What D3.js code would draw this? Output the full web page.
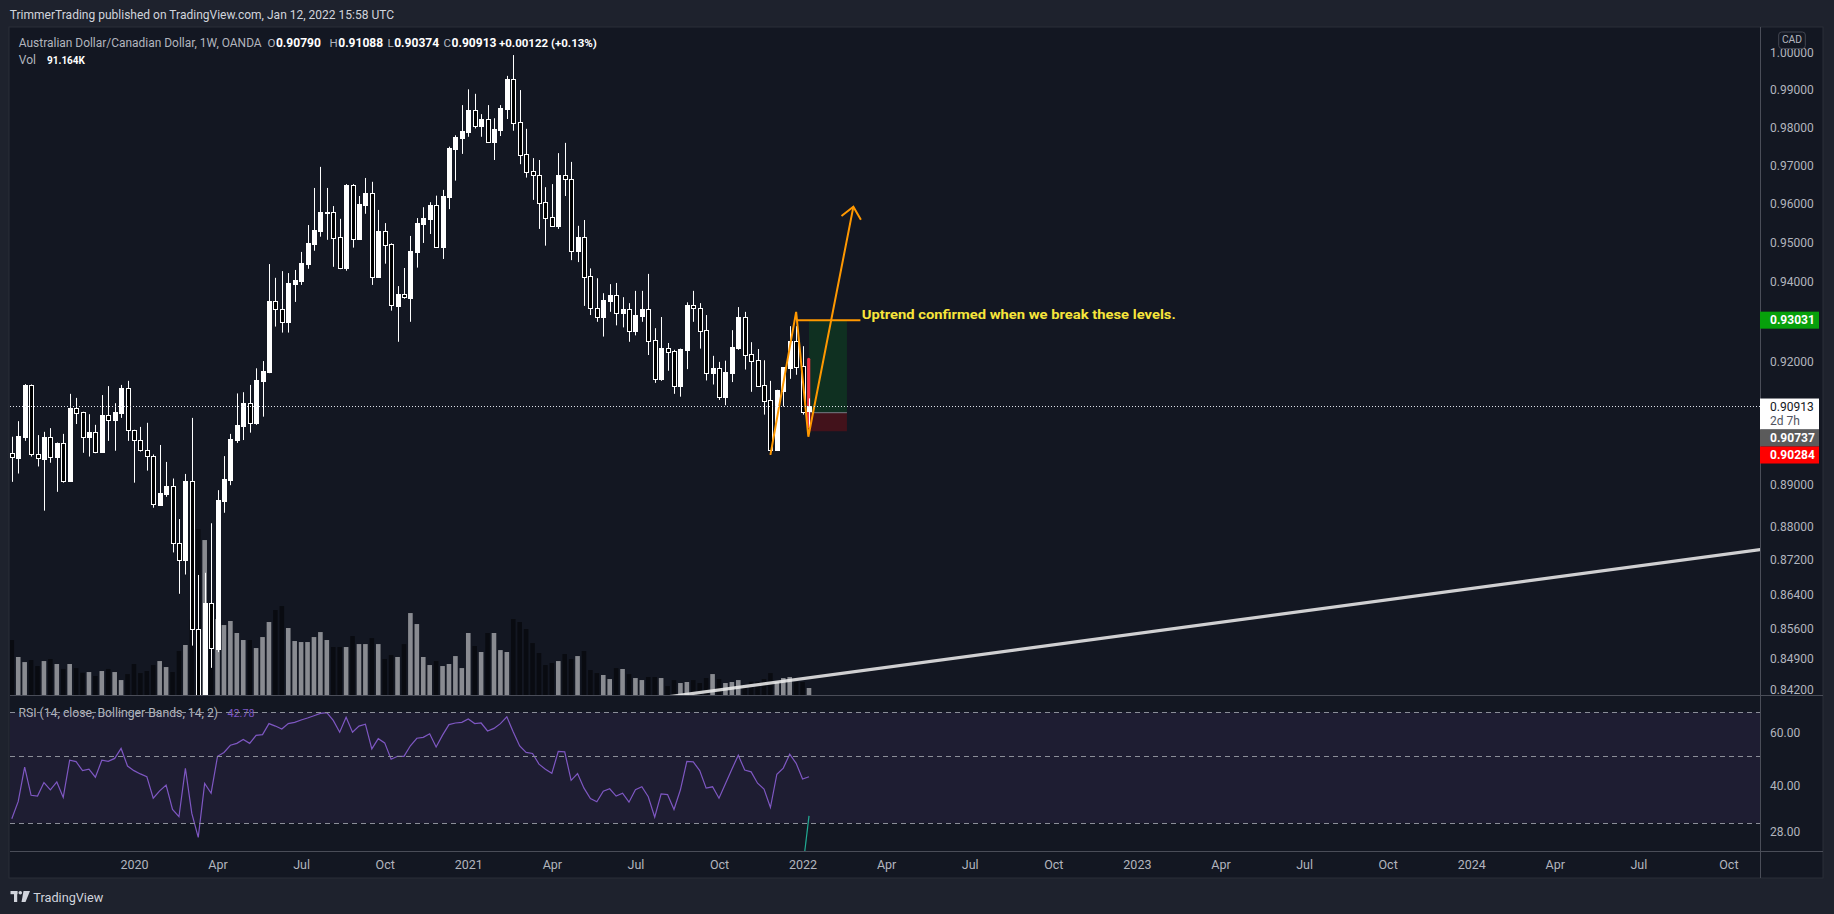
<!DOCTYPE html>
<html><head><meta charset="utf-8">
<script src="https://cdn.jsdelivr.net/npm/d3@7"></script>
<style>
html,body{margin:0;padding:0;background:#1e222d;overflow:hidden;}
svg{display:block;}
text{font-family:Roboto,"Liberation Sans",sans-serif;}
</style></head><body>
<svg id="c" width="1834" height="914"></svg>
<script>
// ---------- DATA (weekly AUD/CAD, OANDA) ----------
const firstWeek = "2019-08-26";
const opens = [
0.8975,0.8964,0.9015,0.9142,0.8972,0.8962,0.9014,0.8967,0.9000,0.8909,
0.9085,0.9075,0.9015,0.9027,0.8979,0.9067,0.9057,0.9074,0.9134,0.9031,
0.9006,0.8982,0.8968,0.8851,0.8878,0.8896,0.8760,0.8719,0.8908,0.8559,
0.8380,0.8619,0.8513,0.8861,0.8910,0.9007,0.9042,0.9097,0.9048,0.9152,
0.9173,0.9351,0.9330,0.9299,0.9394,0.9403,0.9445,0.9497,0.9530,0.9578,
0.9579,0.9513,0.9436,0.9649,0.9510,0.9597,0.9628,0.9411,0.9530,0.9496,
0.9339,0.9369,0.9360,0.9477,0.9548,0.9561,0.9597,0.9489,0.9618,0.9744,
0.9773,0.9788,0.9846,0.9804,0.9822,0.9762,0.9793,0.9849,0.9929,0.9814,
0.9729,0.9684,0.9675,0.9604,0.9565,0.9543,0.9675,0.9664,0.9478,0.9514,
0.9415,0.9333,0.9312,0.9352,0.9366,0.9320,0.9331,0.9277,0.9314,0.9331,
0.9253,0.9157,0.9233,0.9226,0.9140,0.9228,0.9341,0.9333,0.9278,0.9172,
0.9184,0.9113,0.9172,0.9233,0.9311,0.9218,0.9203,0.9142,0.9104,0.8983,
0.9128,0.9184,0.9251,0.9188,0.90790];
const highs = [
0.9015,0.9053,0.9144,0.9143,0.9019,0.9027,0.9036,0.9001,0.9022,0.9120,
0.9110,0.9076,0.9070,0.9044,0.9117,0.9139,0.9097,0.9142,0.9152,0.9032,
0.9039,0.9049,0.8972,0.8995,0.8954,0.8914,0.8817,0.8925,0.9061,0.8685,
0.8690,0.8807,0.8886,0.8968,0.9022,0.9121,0.9124,0.9142,0.9183,0.9201,
0.9445,0.9410,0.9427,0.9422,0.9430,0.9476,0.9545,0.9641,0.9696,0.9641,
0.9594,0.9561,0.9651,0.9651,0.9620,0.9667,0.9657,0.9584,0.9550,0.9498,
0.9389,0.9435,0.9517,0.9563,0.9591,0.9604,0.9621,0.9636,0.9749,0.9779,
0.9859,0.9901,0.9889,0.9835,0.9859,0.9824,0.9859,0.9937,0.9993,0.9899,
0.9796,0.9719,0.9714,0.9643,0.9651,0.9732,0.9759,0.9709,0.9543,0.9558,
0.9434,0.9409,0.9371,0.9394,0.9397,0.9361,0.9346,0.9377,0.9377,0.9420,
0.9283,0.9311,0.9246,0.9229,0.9232,0.9348,0.9377,0.9346,0.9316,0.9214,
0.9199,0.9202,0.9278,0.9336,0.9324,0.9248,0.9231,0.9203,0.9152,0.9130,
0.9186,0.9288,0.9288,0.9238,0.91088];
const lows = [
0.8906,0.8926,0.9005,0.8967,0.8943,0.8837,0.8952,0.8882,0.8904,0.8906,
0.9046,0.8976,0.8967,0.8975,0.8978,0.9005,0.8981,0.9061,0.9005,0.8904,
0.8979,0.8933,0.8844,0.8849,0.8870,0.8738,0.8641,0.8686,0.8521,0.8150,
0.8300,0.8470,0.8506,0.8832,0.8898,0.9000,0.9007,0.9025,0.9044,0.9064,
0.9171,0.9287,0.9272,0.9272,0.9349,0.9392,0.9433,0.9479,0.9515,0.9507,
0.9438,0.9432,0.9428,0.9487,0.9509,0.9574,0.9392,0.9410,0.9446,0.9327,
0.9249,0.9357,0.9299,0.9436,0.9499,0.9522,0.9488,0.9458,0.9586,0.9660,
0.9730,0.9775,0.9797,0.9775,0.9759,0.9714,0.9777,0.9822,0.9791,0.9703,
0.9668,0.9610,0.9535,0.9492,0.9542,0.9535,0.9620,0.9455,0.9450,0.9339,
0.9316,0.9299,0.9262,0.9324,0.9290,0.9285,0.9249,0.9265,0.9299,0.9216,
0.9147,0.9152,0.9177,0.9120,0.9113,0.9181,0.9299,0.9232,0.9153,0.9143,
0.9105,0.9092,0.9149,0.9229,0.9180,0.9125,0.9137,0.9069,0.8971,0.8982,
0.9089,0.9157,0.9167,0.9069,0.90374];
const closes = [
0.8965,0.9017,0.9142,0.8972,0.8963,0.9014,0.8967,0.9000,0.8909,0.9085,
0.9074,0.9015,0.9027,0.8979,0.9068,0.9057,0.9075,0.9134,0.9031,0.9006,
0.8982,0.8968,0.8852,0.8879,0.8896,0.8760,0.8719,0.8908,0.8559,0.8380,
0.8619,0.8515,0.8863,0.8913,0.9010,0.9044,0.9097,0.9049,0.9154,0.9176,
0.9351,0.9330,0.9299,0.9397,0.9404,0.9448,0.9499,0.9532,0.9579,0.9579,
0.9512,0.9436,0.9649,0.9510,0.9599,0.9628,0.9411,0.9530,0.9494,0.9340,
0.9369,0.9361,0.9478,0.9550,0.9562,0.9597,0.9489,0.9620,0.9746,0.9774,
0.9790,0.9846,0.9804,0.9822,0.9762,0.9795,0.9851,0.9929,0.9812,0.9728,
0.9683,0.9674,0.9603,0.9564,0.9543,0.9675,0.9664,0.9478,0.9514,0.9413,
0.9333,0.9312,0.9354,0.9366,0.9320,0.9331,0.9277,0.9316,0.9331,0.9252,
0.9157,0.9233,0.9224,0.9140,0.9231,0.9341,0.9333,0.9277,0.9172,0.9184,
0.9113,0.9174,0.9236,0.9311,0.9217,0.9202,0.9140,0.9103,0.8984,0.9129,
0.9186,0.9251,0.9187,0.9076,0.90913];
const volumes = [ // thousands
659,458,398,422,351,410,434,375,316,375,
327,272,280,233,292,316,280,185,256,375,
268,292,363,410,339,280,529,600,900,1972,
1842,935,907,836,884,742,659,659,564,694,
872,1014,1061,801,647,635,635,694,753,659,
576,576,576,706,611,611,682,611,434,481,
458,611,978,848,458,363,410,351,375,469,
327,742,588,517,742,742,540,517,907,872,
789,623,505,363,387,410,493,434,469,529,
304,268,245,197,327,316,256,209,185,221,
221,209,114,185,150,162,185,150,209,256,
197,150,162,185,114,166,166,197,268,162,
209,221,162,162,91.164];
const rsi = [
31.0,35.4,46.0,37.1,36.9,40.9,38.7,41.1,36.5,48.5,
48.0,44.8,45.3,42.6,48.5,48.1,49.2,53.1,46.4,44.8,
43.7,42.8,36.3,38.4,40.1,33.3,31.5,45.6,32.3,26.9,
40.6,37.7,50.0,51.5,54.4,55.2,56.9,55.2,58.7,59.0,
64.2,63.0,61.6,64.2,64.8,66.0,67.0,68.2,69.4,69.8,
65.8,60.1,67.4,60.1,63.0,63.9,52.9,57.2,55.4,48.9,
50.0,50.0,54.2,57.4,57.8,59.4,53.7,58.8,63.7,64.5,
64.8,66.5,64.2,64.5,60.7,61.9,64.2,67.6,60.2,54.1,
51.5,51.1,47.1,45.3,43.9,51.9,51.7,41.6,43.8,39.2,
36.2,35.3,38.3,39.0,36.9,37.7,35.2,38.7,39.6,36.7,
31.4,37.5,37.3,33.3,38.7,48.1,47.9,44.8,39.2,39.6,
36.3,40.5,45.3,50.4,45.0,44.4,40.7,38.9,33.8,43.6,
45.7,50.8,47.4,42.0,42.78];
const rsiMaIdx = [123, 124];
const rsiMa = [21.0, 31.7];
const rsiBands = [70, 50, 30];
const rsiTicks = [60, 40, 28];
// tick labels visible on the price scale (0.93 / 0.91 / 0.90 are hidden under the price tags)
const priceTicks = [1.0,0.99,0.98,0.97,0.96,0.95,0.94,0.92,0.89,0.88,0.872,0.864,0.856,0.849,0.842];
const tickYears = [2020,2021,2022,2023,2024];
const tickMonths = [0,3,6,9];
const monthNames = ["Jan","Apr","Jul","Oct"];
// annotations (bar index, price)
const zigzagIdx = [118.0, 122.0, 123.9, 130.9];
const zigzagPrice = [0.8971, 0.9324, 0.9015, 0.9592];
const levelIdx = [122.0, 132.0];
const levelPrice = 0.93031;
const posIdx = [124.0, 129.9];
const posTarget = 0.93031, posEntry = 0.90737, posStop = 0.90284;
const redIdx = 123.95, redPrices = [0.92053, 0.90395];
const trendIdx = [100, 272], trendPrice = [0.8400, 0.8745];
const noteIdx = 132.2;
const noteText = "Uptrend confirmed when we break these levels.";
const lastClose = 0.90913;

// ---------- SETUP ----------
const W = 1834, H = 914;
const PL = 10, PR = 1760, PT = 27, PB = 695.5, RT = 696, RB = 851;
const svg = d3.select("#c");
const t0 = new Date(firstWeek + "T00:00:00Z");
const dates = opens.map((_, i) => d3.utcMonday.offset(t0, i));
const idxDate = i => new Date(t0.getTime() + i * 7 * 86400000);

const x = d3.scaleUtc().domain([dates[0], dates[dates.length - 1]]).range([11.8, 809]);
const xi = i => x(idxDate(i));
const y = d3.scaleLog().domain([0.99, 0.842]).range([89.7, 689.8]);
const yV = d3.scaleLinear().domain([0, 2000]).range([695.7, 526.7]);
const yR = d3.scaleLog().domain([70, 30]).range([712.3, 823.1]);

// fit a text's natural width to a target by adjusting its font size
function fit(sel, target) {
  const w = sel.node().getComputedTextLength();
  if (w > 0) sel.attr("font-size", (+sel.attr("font-size")) * target / w);
  return sel;
}

svg.append("rect").attr("width", W).attr("height", H).attr("fill", "#1e222d");
svg.append("rect").attr("x", 9).attr("y", 27).attr("width", 1814).attr("height", 851)
  .attr("fill", "#131722").attr("stroke", "#2a2e39").attr("stroke-width", 1);

const defs = svg.append("defs");
defs.append("clipPath").attr("id", "cp").append("rect").attr("x", PL).attr("y", PT).attr("width", PR - PL).attr("height", PB - PT);
defs.append("clipPath").attr("id", "cr").append("rect").attr("x", PL).attr("y", RT).attr("width", PR - PL).attr("height", RB - RT);

const gP = svg.append("g").attr("clip-path", "url(#cp)");
const gR = svg.append("g").attr("clip-path", "url(#cr)");

// volume
const up = i => closes[i] >= opens[i];
gP.selectAll("rect.vol").data(volumes).join("rect").attr("class", "vol")
  .attr("x", (d, i) => x(dates[i]) - 2.3).attr("width", 4.6)
  .attr("y", d => yV(d)).attr("height", d => yV(0) - yV(d))
  .attr("fill", (d, i) => up(i) ? "rgba(255,255,255,0.5)" : "rgba(0,0,0,0.5)");

// trend line
gP.append("line").attr("x1", xi(trendIdx[0])).attr("y1", y(trendPrice[0]))
  .attr("x2", xi(trendIdx[1])).attr("y2", y(trendPrice[1]))
  .attr("stroke", "rgba(235,235,235,0.88)").attr("stroke-width", 3.2);

// last price dotted line
const yc = Math.round(y(lastClose)) + 0.5;
svg.append("line").attr("x1", PL).attr("x2", PR).attr("y1", yc).attr("y2", yc)
  .attr("stroke", "#e0e3eb").attr("stroke-width", 1).attr("stroke-dasharray", "1,2");

// position box
const px0 = xi(posIdx[0]), px1 = xi(posIdx[1]);
gP.append("rect").attr("x", px0).attr("width", px1 - px0).attr("y", y(posTarget)).attr("height", y(posEntry) - y(posTarget))
  .attr("fill", "rgba(0,150,30,0.2)");
gP.append("rect").attr("x", px0).attr("width", px1 - px0).attr("y", y(posEntry)).attr("height", y(posStop) - y(posEntry))
  .attr("fill", "rgba(255,0,0,0.2)");
gP.append("line").attr("x1", px0).attr("x2", px1).attr("y1", y(posEntry)).attr("y2", y(posEntry))
  .attr("stroke", "#787b86").attr("stroke-width", 1);

// red stroke
gP.append("line").attr("x1", xi(redIdx)).attr("x2", xi(redIdx)).attr("y1", y(redPrices[0])).attr("y2", y(redPrices[1]))
  .attr("stroke", "#f23645").attr("stroke-width", 3.2).attr("stroke-linecap", "round");

// candles
const cg = gP.append("g");
opens.forEach((o, i) => {
  const cx = Math.round(x(dates[i])) + 0.5;
  const c = closes[i];
  cg.append("line").attr("x1", cx).attr("x2", cx).attr("y1", y(highs[i])).attr("y2", y(lows[i]))
    .attr("stroke", "#ffffff").attr("stroke-width", 1);
  const yt = Math.round(y(Math.max(o, c))) + 0.5;
  const yb = Math.round(y(Math.min(o, c))) + 0.5;
  cg.append("rect").attr("x", cx - 2).attr("width", 4).attr("y", yt).attr("height", Math.max(1, yb - yt))
    .attr("fill", c >= o ? "#ffffff" : "#000000").attr("stroke", "#ffffff").attr("stroke-width", 1);
});

// orange drawings
const zz = zigzagIdx.map((d, i) => [xi(d), y(zigzagPrice[i])]);
gP.append("path").attr("d", d3.line()(zz)).attr("fill", "none").attr("stroke", "#ff9800").attr("stroke-width", 2);
const tip = zz[3], prev = zz[2];
const ang = Math.atan2(prev[1] - tip[1], prev[0] - tip[0]);
const wing = a => [tip[0] + 15 * Math.cos(ang + a), tip[1] + 15 * Math.sin(ang + a)];
gP.append("path").attr("d", d3.line()([wing(0.72), tip, wing(-0.72)])).attr("fill", "none")
  .attr("stroke", "#ff9800").attr("stroke-width", 2);
gP.append("line").attr("x1", xi(levelIdx[0])).attr("x2", xi(levelIdx[1])).attr("y1", y(levelPrice)).attr("y2", y(levelPrice))
  .attr("stroke", "#ff9800").attr("stroke-width", 2);
svg.append("text").attr("x", xi(noteIdx)).attr("y", y(levelPrice) - 1.5).text(noteText)
  .attr("fill", "#f7e53b").attr("font-size", 13).attr("font-weight", "bold")
  .attr("textLength", 314).attr("lengthAdjust", "spacingAndGlyphs");

// ---------- RSI pane ----------
gR.append("rect").attr("x", PL).attr("width", PR - PL).attr("y", yR(70)).attr("height", yR(30) - yR(70))
  .attr("fill", "rgba(126,87,194,0.1)");
gR.append("path").datum(rsi).attr("d", d3.line().x((d, i) => x(dates[i])).y(d => yR(d)))
  .attr("fill", "none").attr("stroke", "#7e57c2").attr("stroke-width", 1.2);
gR.append("path").datum(rsiMa).attr("d", d3.line().x((d, i) => xi(rsiMaIdx[i])).y(d => yR(d)))
  .attr("fill", "none").attr("stroke", "#22ab94").attr("stroke-width", 1.2);
fit(svg.append("text").attr("x", 18.4).attr("y", yR(70) + 4.3).attr("font-size", 12.5)
  .text("RSI (14, close, Bollinger Bands, 14, 2)").attr("fill", "#b2b5be"), 200);
fit(svg.append("text").attr("x", 227.5).attr("y", yR(70) + 4.3).attr("font-size", 12.5)
  .text(rsi[rsi.length - 1].toFixed(2)).attr("fill", "#7e57c2"), 27);
rsiBands.forEach(b => {
  const yy = Math.round(yR(b)) + 0.5;
  svg.append("line").attr("x1", PL).attr("x2", PR).attr("y1", yy).attr("y2", yy)
    .attr("stroke", "#8b8e98").attr("stroke-width", 1).attr("stroke-dasharray", "5,4");
});

// ---------- frame lines ----------
svg.append("line").attr("x1", PL).attr("x2", 1823).attr("y1", 695.5).attr("y2", 695.5).attr("stroke", "#4a4d58");
svg.append("line").attr("x1", PL).attr("x2", 1823).attr("y1", 851.5).attr("y2", 851.5).attr("stroke", "#4a4d58");
svg.append("line").attr("x1", 1760.5).attr("x2", 1760.5).attr("y1", 27).attr("y2", 878).attr("stroke", "#4a4d58");

// ---------- axes ----------
const tickDates = [];
tickYears.forEach(yr => tickMonths.forEach(m => {
  const d = d3.utcMonday.ceil(new Date(Date.UTC(yr, m, 1)));
  if (x(d) > PL && x(d) < PR - 10) tickDates.push(d);
}));
const fmt = d => d.getUTCMonth() < 3 ? String(d.getUTCFullYear()) : monthNames[Math.floor(d.getUTCMonth() / 3)];
const gx = svg.append("g").attr("transform", "translate(0,857)")
  .call(d3.axisBottom(x).tickValues(tickDates).tickFormat(fmt).tickSize(0).tickPadding(3));
gx.select(".domain").remove();
gx.selectAll("text").attr("fill", "#b2b5be").attr("font-size", 12.5).attr("font-family", "Roboto, sans-serif");

const gy = svg.append("g").attr("transform", "translate(1767,0)")
  .call(d3.axisRight(y).tickValues(priceTicks).tickFormat(d => d.toFixed(5)).tickSize(0).tickPadding(3));
gy.select(".domain").remove();
gy.selectAll("text").attr("fill", "#b2b5be").attr("font-size", 12).attr("font-family", "Roboto, sans-serif");

const gr = svg.append("g").attr("transform", "translate(1767,0)")
  .call(d3.axisRight(yR).tickValues(rsiTicks).tickFormat(d => d.toFixed(2)).tickSize(0).tickPadding(3));
gr.select(".domain").remove();
gr.selectAll("text").attr("fill", "#b2b5be").attr("font-size", 12).attr("font-family", "Roboto, sans-serif");

// price labels on axis
function priceLabel(top, h, bg, lines, fg) {
  svg.append("rect").attr("x", 1760).attr("y", top).attr("width", 59).attr("height", h).attr("fill", bg);
  lines.forEach((t, k) => {
    svg.append("text").attr("x", 1770).attr("y", top + 12.6 + k * 14).text(t.s)
      .attr("fill", t.c || fg).attr("font-size", 12).attr("font-weight", t.b ? "bold" : "normal");
  });
}
const gTop = y(posTarget) - 8.5;
priceLabel(gTop, 17, "#07a00b", [{s: posTarget.toFixed(5), b: true}], "#ffffff");
const wTop = y(lastClose) - 7;
priceLabel(wTop, 31, "#ffffff", [{s: lastClose.toFixed(5)}, {s: "2d 7h", c: "#50535e"}], "#131722");
priceLabel(wTop + 31, 17, "#5b5b5b", [{s: posEntry.toFixed(5), b: true}], "#ffffff");
priceLabel(wTop + 48, 17, "#ff0000", [{s: posStop.toFixed(5), b: true}], "#ffffff");

// CAD badge (sits on top of the 1.00000 tick as in the original)
svg.append("rect").attr("x", 1778.7).attr("y", 32).attr("width", 26.6).attr("height", 16.5).attr("rx", 3)
  .attr("fill", "#131722").attr("stroke", "#434651");
svg.append("text").attr("x", 1792).attr("y", 42.6).attr("text-anchor", "middle").text("CAD")
  .attr("fill", "#b2b5be").attr("font-size", 10.3);

// ---------- header & legend ----------
fit(svg.append("text").attr("x", 9.8).attr("y", 19).attr("font-size", 12)
  .text("TrimmerTrading published on TradingView.com, Jan 12, 2022 15:58 UTC").attr("fill", "#d1d4dc"), 385);

fit(svg.append("text").attr("x", 18.8).attr("y", 46.7).attr("font-size", 13)
  .text("Australian Dollar/Canadian Dollar, 1W, OANDA").attr("fill", "#b2b5be"), 243);
const ohlc = [
  {x: 267.5, k: "O", v: opens[124].toFixed(5)},
  {x: 329.5, k: "H", v: highs[124].toFixed(5)},
  {x: 387.5, k: "L", v: lows[124].toFixed(5)},
  {x: 443.5, k: "C", v: closes[124].toFixed(5)}
];
ohlc.forEach(g => {
  const k = svg.append("text").attr("x", g.x).attr("y", 46.7).attr("font-size", 11.5).attr("fill", "#b2b5be").text(g.k);
  const kw = k.node().getComputedTextLength();
  fit(svg.append("text").attr("x", g.x + kw + 0.5).attr("y", 46.7).attr("font-size", 12.5)
    .attr("font-weight", "bold").attr("fill", "#ffffff").text(g.v), 45);
});
fit(svg.append("text").attr("x", 499).attr("y", 46.7).attr("font-size", 12.5).attr("font-weight", "bold")
  .attr("fill", "#ffffff").text("+0.00122 (+0.13%)"), 98);
svg.append("text").attr("x", 18.8).attr("y", 63.7).attr("font-size", 12).attr("fill", "#b2b5be").text("Vol");
fit(svg.append("text").attr("x", 47).attr("y", 63.7).attr("font-size", 12.5).attr("font-weight", "bold")
  .attr("fill", "#ffffff").text(volumes[124].toFixed(3) + "K"), 38);

// ---------- TradingView logo ----------
const lg = svg.append("g").attr("fill", "#d1d4dc");
lg.append("rect").attr("x", 10.5).attr("y", 891).attr("width", 7).attr("height", 3.2);
lg.append("rect").attr("x", 14).attr("y", 891).attr("width", 3.2).attr("height", 11);
lg.append("circle").attr("cx", 20.3).attr("cy", 892.8).attr("r", 1.8);
lg.append("path").attr("d", "M23.5,891 L30,891 L25.5,902 L21.5,902 Z");
fit(svg.append("text").attr("x", 33.3).attr("y", 901.7).attr("font-size", 14.5)
  .text("TradingView").attr("fill", "#d1d4dc"), 70);
</script></body></html>
